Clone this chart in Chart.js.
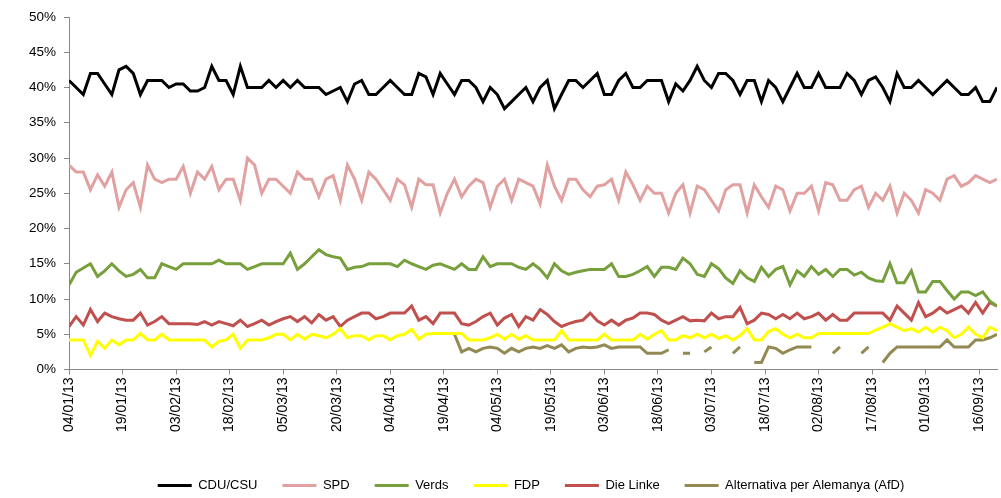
<!DOCTYPE html>
<html>
<head>
<meta charset="utf-8">
<script src="https://cdn.jsdelivr.net/npm/chart.js@4"></script>
<style>
  html, body { margin: 0; padding: 0; background: #fff; }
  #wrap { width: 1001px; height: 498px; }
</style>
</head>
<body>
<div id="wrap"><canvas id="grafic"></canvas></div>
<script>
// dies des de 04/01/13 (un sondeig cada ~2 dies)
const dies = [
  0,2,4,6,8,10,12,14,16,18,
  20,22,24,26,28,30,32,34,36,38,
  40,42,44,46,48,50,52,54,56,58,
  60,62,64,66,68,70,72,74,76,78,
  80,82,84,86,88,90,92,94,96,98,
  100,102,104,106,108,110,112,114,116,118,
  120,122,124,126,128,130,132,134,136,138,
  140,142,144,146,148,150,152,154,156,158,
  160,162,164,166,168,170,172,174,176,178,
  180,182,184,186,188,190,192,194,196,198,
  200,202,204,206,208,210,212,214,216,218,
  220,222,224,226,228,230,232,234,236,238,
  240,242,244,246,248,250,252,254,256,258,
  260
];

// etiquetes de l'eix X (cada 15 dies)
const diesEtiqueta = [0,15,30,45,60,75,90,105,120,135,150,165,180,195,210,225,240,255];
const etiquetes = ["04/01/13","19/01/13","03/02/13","18/02/13","05/03/13","20/03/13","04/04/13","19/04/13","04/05/13",
  "19/05/13","03/06/13","18/06/13","03/07/13","18/07/13","02/08/13","17/08/13","01/09/13","16/09/13"];

const cdu = [
  41,40,39,42,42,40.5,39,42.5,43,42,
  39,41,41,41,40,40.5,40.5,39.5,39.5,40,
  43,41,41,39,43,40,40,40,41,40,
  41,40,41,40,40,40,39,39.5,40,38,
  40.5,41,39,39,40,41,40,39,39,42,
  41.5,39,42,40.5,39,41,41,40,38,40,
  39,37,38,39,40,38,40,41,37,39,
  41,41,40,41,42,39,39,41,42,40,
  40,41,41,41,38,40.5,39.5,41,43,41,
  40,42,42,41,39,41,41,38,41,40,
  38,40,42,40,40,42,40,40,40,42,
  41,39,41,41.5,40,38,42,40,40,41,
  40,39,40,41,40,39,39,40,38,38,
  40
];

const spd = [
  29,28,28,25.5,27.6,26,28,23,25.5,26.5,
  23,29,27,26.5,27,27,28.8,25,28,27,
  28.8,25.5,27,27,24,30,29,25,27,27,
  26,25,28,27,27,24.5,27,27.5,24,29,
  27,24,28,27,25.5,24,27,26.2,23,27,
  26.2,26.2,22.2,25,27,24.5,26,27,26.5,23,
  26,27,24,27,26.5,26,23.5,29,26,24,
  27,27,25.5,24.5,26,26.2,27,24,28,26.2,
  24,26,25,25,22.2,25,26.2,22.2,26,25.5,
  24,22.5,25.5,26.2,26.2,22.2,26.2,24.5,23,26,
  25.5,22.5,25,25,26,22.5,26.5,26.2,24,24,
  25.5,26,23,25,24,26,22.2,25,24,22.2,
  25.5,25,24,27,27.5,26,26.5,27.5,27,26.5,
  27
];

const verds = [
  12,13.8,14.4,15,13.2,14,15,14,13.2,13.5,
  14.2,13,13,15,14.6,14.2,15,15,15,15,
  15,15.5,15,15,15,14.2,14.6,15,15,15,
  15,16.5,14.2,15,16,17,16.3,16,15.8,14.2,
  14.5,14.6,15,15,15,15,14.6,15.5,15,14.6,
  14.2,14.8,15,14.6,14.2,15,14.2,14.2,16,14.6,
  15,15,15,14.5,14.2,15,14.2,13,15,14,
  13.5,13.8,14,14.2,14.2,14.2,15,13.2,13.2,13.5,
  14,14.6,13.2,14.5,14.5,14.2,15.8,15,13.5,13.2,
  15,14.3,13,12.2,14,13,12.5,14.5,13.2,14.2,
  14.6,12,14,13.2,14.6,13.5,14.2,13.2,14.2,14.2,
  13.4,13.8,13,12.6,12.5,15,12.3,12.3,14,11,
  11,12.5,12.5,11.2,10,11,11,10.5,11,9.7,
  9
];

const fdp = [
  4.2,4.2,4.2,2,4,3,4.2,3.5,4.2,4.2,
  5.1,4.2,4.2,5,4.2,4.2,4.2,4.2,4.2,4.2,
  3.2,4,4.2,5,3,4.2,4.2,4.2,4.5,5,
  5,4.2,5,4.3,5,4.8,4.5,5,5.8,4.5,
  4.8,4.8,4.2,4.8,4.8,4.2,4.8,5,5.7,4.3,
  5,5.1,5.1,5.1,5.1,5.1,4.2,4.2,4.2,4.5,
  5,4.3,5,4.3,4.8,4.2,4.2,4.2,4.2,5.5,
  4.2,4.2,4.2,4.2,4.2,5,4.2,4.2,4.2,4.2,
  5,4.3,5,5.5,4.2,4.2,4.8,4.5,5,4.5,
  5,4.4,4.8,4.2,4.8,5.8,4.2,4.2,5.4,5.8,
  5,4.5,5,4.5,4.5,5.1,5.1,5.1,5.1,5.1,
  5.1,5.1,5.1,5.6,6,6.5,6,5.5,5.8,5.3,
  6,5.3,6,5.5,4.5,5,6,5,4.5,6,
  5.5
];

const linke = [
  6.1,7.5,6.3,8.5,6.8,8,7.5,7.2,7,7,
  8,6.3,6.8,7.5,6.5,6.5,6.5,6.5,6.4,6.8,
  6.3,6.8,6.5,6.2,7,6.1,6.5,7,6.3,6.8,
  7.2,7.5,6.8,7.5,6.6,7.8,7,7.5,6.1,7,
  7.5,8,8,7.2,7.5,8,8,8,9,7,
  7.5,6.5,8,8,8,6.5,6.3,6.8,7.5,8,
  6.3,7.3,7.8,6.1,7.5,7,8.5,7.8,6.8,6.1,
  6.5,6.8,7,8,6.9,6.3,7,6.3,7,7.3,
  8,8,7.8,7,6.5,7,7.5,6.9,7,6.9,
  8,7.2,7.5,7.5,8.8,6.5,7,8,7.8,7.2,
  7.8,7.2,8,7.2,7.5,8,7,7.8,7,7,
  8,8,8,8,8,7,9,8,7,9.5,
  7.5,8,8.8,8,8.5,9,8,9.5,8,9.5,
  9
];

// AfD: sense dades abans d'abril i forats (null) a l'estiu
const afd = [
  null,null,null,null,null,null,null,null,null,null,
  null,null,null,null,null,null,null,null,null,null,
  null,null,null,null,null,null,null,null,null,null,
  null,null,null,null,null,null,null,null,null,null,
  null,null,null,null,null,null,null,null,null,null,
  null,null,null,null,5,2.5,3,2.5,3,3.2,
  3,2.3,3,2.5,3,3.2,3,3.4,3,3.5,
  2.5,3,3.2,3.1,3.2,3.5,3,3.2,3.2,3.2,
  3.2,2.3,2.3,2.3,2.8,null,2.3,2.3,null,2.5,
  3.2,null,null,2.3,3.2,null,1,1,3.2,3,
  2.3,2.8,3.2,3.2,3.2,null,null,2.3,3.2,null,
  null,2.3,3.2,null,1,2.3,3.2,3.2,3.2,3.2,
  3.2,3.2,3.2,4.2,3.2,3.2,3.2,4.2,4.2,4.5,
  5
];

const partits = [
  { nom: "CDU/CSU", valors: cdu, color: "#000000" },
  { nom: "SPD", valors: spd, color: "#E0A1A0" },
  { nom: "Verds", valors: verds, color: "#77A03C" },
  { nom: "FDP", valors: fdp, color: "#FFFF00" },
  { nom: "Die Linke", valors: linke, color: "#C0504D" },
  { nom: "Alternativa per Alemanya (AfD)", valors: afd, color: "#938953" }
];

const fontText = "'Liberation Sans', Arial, sans-serif";

// desplaça la llegenda cap a la dreta i una mica avall, com a l'original
const moureLlegenda = {
  id: "moureLlegenda",
  afterLayout(chart) {
    chart.legend.left += 22;
    chart.legend.right += 22;
    chart.legend.top += 4;
    chart.legend.bottom += 4;
  }
};

new Chart(document.getElementById("grafic"), {
  type: "line",
  data: {
    datasets: partits.map(p => ({
      label: p.nom,
      data: dies.map((d, i) => ({ x: d, y: p.valors[i] })),
      borderColor: p.color,
      backgroundColor: p.color,
      borderWidth: 3,
      pointRadius: 0,
      tension: 0,
      spanGaps: false
    }))
  },
  plugins: [moureLlegenda],
  options: {
    responsive: true,
    maintainAspectRatio: false,
    animation: false,
    layout: { padding: { top: 17, right: 4, left: 21, bottom: 0 } },
    plugins: {
      tooltip: { enabled: false },
      legend: {
        position: "bottom",
        labels: {
          usePointStyle: true,
          pointStyle: "line",
          pointStyleWidth: 34,
          padding: 25,
          color: "#000",
          font: { family: fontText, size: 13 }
        }
      }
    },
    scales: {
      x: {
        type: "linear",
        min: 0,
        max: 260,
        afterBuildTicks: axis => { axis.ticks = diesEtiqueta.map(v => ({ value: v })); },
        afterFit: axis => { axis.height += 15; },
        ticks: {
          autoSkip: false,
          minRotation: 90,
          maxRotation: 90,
          padding: 3,
          color: "#000",
          font: { family: fontText, size: 14 },
          callback: v => etiquetes[diesEtiqueta.indexOf(v)]
        },
        grid: { drawOnChartArea: false, drawTicks: true, tickLength: 5, color: "#888" },
        border: { color: "#888" }
      },
      y: {
        min: 0,
        max: 50,
        ticks: {
          stepSize: 5,
          padding: 8,
          color: "#000",
          font: { family: fontText, size: 13.5 },
          callback: v => v + "%"
        },
        grid: { drawOnChartArea: false, drawTicks: true, tickLength: 5, color: "#888" },
        border: { color: "#888" }
      }
    }
  }
});
</script>
</body>
</html>
